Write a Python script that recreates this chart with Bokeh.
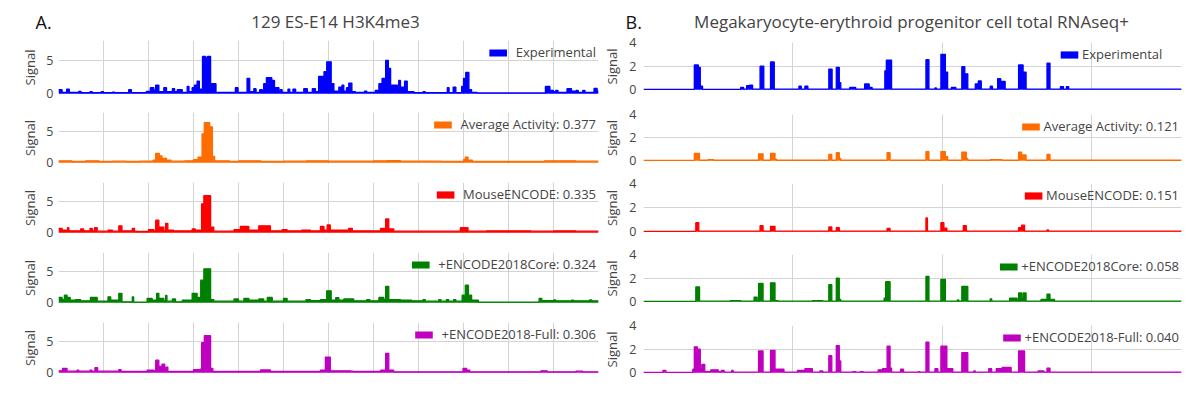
from bokeh.plotting import figure
from bokeh.layouts import column, row
from bokeh.models import Range1d, FixedTicker, Grid, Legend, LegendItem, Label
from bokeh.embed import file_html
from bokeh.resources import INLINE

FONT = "Open Sans"
TXT = "#444444"
GRID = "#d4d4d4"

# ---------------- data (x = genomic bin position, y = signal), step breakpoints ----------------
LEFT_TITLE = "129 ES-E14 H3K4me3"
RIGHT_TITLE = "Megakaryocyte-erythroid progenitor cell total RNAseq+"

LEFT_LABELS = ["Experimental", "Average Activity: 0.377", "MouseENCODE: 0.335",
               "+ENCODE2018Core: 0.324", "+ENCODE2018-Full: 0.306"]
RIGHT_LABELS = ["Experimental", "Average Activity: 0.121", "MouseENCODE: 0.151",
                "+ENCODE2018Core: 0.058", "+ENCODE2018-Full: 0.040"]
COLORS = ["#0000ff", "#ff6c00", "#ff0000", "#008000", "#bf00bf"]

L_EXP = [(0, 0.6), (0.08, 0.2), (0.18, 0.7), (0.24, 0.2), (0.45, 0.35), (0.5, 0.15), (0.7, 0.3), (0.75, 0.15),
         (0.95, 0.3), (1.0, 0.15), (1.2, 0.25), (1.25, 0.15), (1.56, 0.6), (1.62, 0.15), (1.95, 0.35), (2.04, 0.9),
         (2.12, 0.5), (2.16, 1.3), (2.23, 0.3), (2.34, 0.9), (2.4, 0.3), (2.53, 0.75), (2.58, 0.3), (2.64, 0.6),
         (2.75, 0.2), (2.86, 1.1), (2.9, 0.3), (2.97, 0.9), (3.02, 1.3), (3.08, 1.9), (3.13, 0.7), (3.2, 5.6),
         (3.27, 5.4), (3.31, 5.6), (3.38, 1.5), (3.5, 0.2), (3.93, 0.9), (3.99, 0.2), (4.19, 2.3), (4.25, 0.3),
         (4.34, 0.75), (4.39, 0.2), (4.47, 0.6), (4.53, 0.2), (4.56, 1.5), (4.62, 2.4), (4.74, 2.0), (4.8, 0.9),
         (4.9, 0.3), (4.93, 0.6), (4.97, 0.2), (5.1, 0.7), (5.14, 0.2), (5.21, 0.7), (5.27, 0.2), (5.45, 0.75),
         (5.53, 0.2), (5.64, 0.75), (5.71, 0.3), (5.78, 2.6), (5.9, 3.3), (5.96, 4.8), (6.06, 1.5), (6.12, 0.4),
         (6.23, 1.0), (6.3, 1.3), (6.34, 0.4), (6.4, 0.9), (6.45, 1.6), (6.52, 0.3), (6.6, 0.2), (6.8, 0.4),
         (6.85, 0.2), (7.04, 0.5), (7.12, 1.5), (7.19, 2.3), (7.27, 5.0), (7.33, 3.8), (7.38, 1.3), (7.53, 0.5),
         (7.56, 2.0), (7.6, 1.0), (7.69, 1.9), (7.75, 0.3), (7.9, 0.15), (8.1, 0.3), (8.15, 0.15), (8.64, 0.9),
         (8.68, 0.15), (8.77, 1.0), (8.83, 0.15), (8.96, 1.1), (9.0, 2.3), (9.05, 3.2), (9.12, 0.6), (9.18, 0.2),
         (9.3, 0.12), (10.82, 1.1), (10.92, 0.5), (11.0, 0.3), (11.05, 0.5), (11.1, 0.2), (11.3, 0.75), (11.4, 0.4),
         (11.5, 0.5), (11.55, 0.2), (11.65, 0.5), (11.7, 0.2), (11.9, 0.8), (11.97, 0.4), (12.0, 0.4)]

L_AVG = [(0, 0.3), (0.3, 0.2), (0.6, 0.3), (0.9, 0.2), (1.2, 0.25), (1.5, 0.2), (1.8, 0.25), (2.1, 0.4),
         (2.16, 1.5), (2.24, 1.1), (2.3, 0.7), (2.4, 0.4), (2.5, 0.25), (2.8, 0.3), (3.0, 0.5), (3.1, 0.9),
         (3.19, 4.6), (3.24, 6.4), (3.36, 5.7), (3.42, 1.0), (3.47, 0.3), (3.8, 0.2), (4.0, 0.3), (4.5, 0.2),
         (5.0, 0.25), (5.5, 0.3), (6.0, 0.25), (7.0, 0.3), (7.3, 0.35), (7.6, 0.25), (8.5, 0.2), (9.0, 0.5),
         (9.04, 0.9), (9.1, 0.4), (9.2, 0.2), (10.8, 0.3), (11.5, 0.25), (12.0, 0.25)]

L_MOUSE = [(0, 0.7), (0.08, 0.4), (0.2, 0.8), (0.23, 0.3), (0.49, 0.6), (0.56, 0.3), (0.7, 0.7), (0.75, 0.3),
           (0.8, 0.8), (0.86, 0.25), (1.1, 0.4), (1.2, 0.25), (1.34, 1.1), (1.41, 0.3), (1.64, 0.7), (1.69, 0.2),
           (2.0, 0.5), (2.12, 0.3), (2.16, 2.0), (2.23, 0.9), (2.34, 0.3), (2.38, 1.5), (2.43, 0.4), (2.56, 0.3),
           (2.97, 0.6), (3.04, 0.4), (3.18, 4.6), (3.23, 5.9), (3.38, 0.9), (3.45, 0.25), (3.9, 0.5), (4.04, 1.0),
           (4.23, 0.4), (4.45, 1.1), (4.71, 0.3), (4.97, 0.5), (5.08, 0.3), (5.4, 0.4), (5.6, 0.3), (5.82, 1.0),
           (5.9, 0.4), (5.97, 1.25), (6.04, 0.4), (6.45, 0.7), (6.53, 0.3), (7.16, 0.7), (7.27, 2.2), (7.34, 0.6),
           (7.45, 0.25), (8.93, 0.8), (9.1, 0.25), (9.5, 0.3), (10.5, 0.25), (11.0, 0.3), (11.5, 0.25), (12.0, 0.25)]

L_CORE = [(0, 0.85), (0.08, 0.5), (0.13, 1.2), (0.19, 0.85), (0.26, 0.4), (0.38, 0.5), (0.49, 0.3), (0.71, 0.85),
          (0.86, 0.25), (1.1, 0.95), (1.16, 0.4), (1.34, 1.5), (1.41, 0.15), (1.64, 0.95), (1.67, 0.1), (1.97, 0.7),
          (2.08, 0.4), (2.18, 1.5), (2.23, 0.7), (2.34, 0.3), (2.38, 1.15), (2.41, 0.25), (2.53, 0.6), (2.6, 0.15),
          (2.75, 0.4), (2.97, 1.5), (3.08, 0.85), (3.16, 3.6), (3.23, 5.4), (3.38, 0.5), (3.45, 0.25), (3.9, 0.6),
          (4.0, 0.25), (4.12, 0.7), (4.23, 0.4), (4.45, 0.6), (4.56, 0.25), (4.64, 0.85), (4.75, 0.25), (5.0, 0.7),
          (5.08, 0.25), (5.5, 0.5), (5.6, 0.35), (5.82, 0.5), (5.96, 1.9), (6.06, 0.4), (6.16, 0.8), (6.23, 0.4),
          (6.34, 0.6), (6.56, 0.3), (6.85, 0.5), (6.92, 0.3), (7.12, 0.85), (7.23, 0.5), (7.27, 2.6), (7.34, 0.5),
          (7.6, 0.4), (7.85, 0.3), (8.1, 0.5), (8.15, 0.25), (8.45, 0.5), (8.5, 0.25), (8.62, 0.5), (8.67, 0.25),
          (8.78, 0.5), (8.83, 0.25), (8.97, 1.2), (9.04, 2.8), (9.11, 1.2), (9.18, 0.4), (9.33, 0.1), (10.68, 0.7),
          (10.74, 0.35), (11.0, 0.45), (11.05, 0.3), (11.4, 0.4), (11.45, 0.3), (11.8, 0.45), (11.85, 0.3), (12.0, 0.3)]

L_FULL = [(0, 0.3), (0.09, 0.7), (0.19, 0.25), (0.41, 0.4), (0.45, 0.25), (0.7, 0.4), (0.74, 0.25), (0.81, 0.8),
          (0.87, 0.25), (1.34, 0.5), (1.39, 0.2), (1.97, 0.4), (2.12, 0.3), (2.16, 2.0), (2.23, 1.0), (2.3, 1.35),
          (2.36, 0.5), (2.39, 0.9), (2.43, 0.2), (3.0, 0.5), (3.16, 0.6), (3.18, 4.8), (3.24, 5.9), (3.38, 0.7),
          (3.43, 0.2), (4.49, 0.45), (4.71, 0.2), (5.82, 0.4), (5.93, 2.5), (6.04, 0.3), (6.5, 0.25), (6.55, 0.2),
          (7.16, 0.4), (7.27, 3.1), (7.34, 0.4), (7.45, 0.15), (8.99, 0.7), (9.07, 0.4), (9.14, 0.15), (10.72, 0.3),
          (10.86, 0.15), (11.5, 0.25), (11.65, 0.15), (12.0, 0.15)]

R_EXP = [(0, 0.03), (0.34, 2.1), (0.367, 1.9), (0.38, 0.3), (0.395, 0.03), (0.65, 0.2), (0.67, 0.05), (0.69, 0.35),
         (0.71, 0.4), (0.73, 0.05), (0.78, 2.0), (0.805, 0.05), (0.85, 2.35), (0.875, 0.05), (1.04, 0.3),
         (1.056, 0.05), (1.08, 0.3), (1.1, 0.05), (1.24, 1.75), (1.262, 0.05), (1.29, 1.9), (1.31, 0.6),
         (1.32, 0.05), (1.38, 0.2), (1.42, 0.05), (1.48, 0.5), (1.51, 0.2), (1.53, 0.05), (1.615, 1.6),
         (1.625, 2.5), (1.66, 0.05), (1.89, 2.55), (1.91, 0.05), (1.95, 0.15), (1.96, 0.05), (1.99, 3.0),
         (2.02, 1.5), (2.035, 0.05), (2.06, 0.2), (2.09, 0.05), (2.13, 1.95), (2.15, 1.35), (2.17, 0.05),
         (2.22, 0.5), (2.235, 0.2), (2.24, 0.75), (2.26, 0.05), (2.32, 0.3), (2.335, 0.05), (2.37, 0.95),
         (2.39, 0.7), (2.42, 0.05), (2.51, 2.1), (2.54, 1.5), (2.56, 0.05), (2.7, 2.25), (2.72, 0.05),
         (2.79, 0.27), (2.81, 0.05), (2.83, 0.27), (2.845, 0.05), (3.6, 0.05)]

R_AVG = [(0, 0.03), (0.34, 0.65), (0.375, 0.05), (0.43, 0.1), (0.47, 0.05), (0.77, 0.6), (0.8, 0.05), (0.85, 0.65),
         (0.88, 0.15), (0.89, 0.05), (1.24, 0.55), (1.26, 0.05), (1.29, 0.7), (1.31, 0.2), (1.32, 0.05),
         (1.63, 0.7), (1.65, 0.05), (1.89, 0.8), (1.91, 0.05), (1.99, 0.8), (2.02, 0.35), (2.035, 0.05),
         (2.13, 0.75), (2.16, 0.2), (2.17, 0.05), (2.32, 0.1), (2.4, 0.05), (2.51, 0.75), (2.53, 0.5),
         (2.56, 0.05), (2.7, 0.55), (2.72, 0.05), (3.6, 0.05)]

R_MOUSE = [(0, 0.03), (0.35, 0.75), (0.37, 0.05), (0.78, 0.5), (0.8, 0.05), (0.85, 0.45), (0.88, 0.05), (1.24, 0.4),
           (1.26, 0.05), (1.29, 0.35), (1.31, 0.05), (1.63, 0.27), (1.65, 0.05), (1.89, 1.15), (1.9, 0.05),
           (1.99, 0.75), (2.01, 0.3), (2.03, 0.05), (2.14, 0.5), (2.16, 0.05), (2.51, 0.35), (2.53, 0.55),
           (2.55, 0.05), (2.7, 0.15), (2.71, 0.05), (3.6, 0.05)]

R_CORE = [(0, 0.03), (0.35, 1.25), (0.375, 0.05), (0.58, 0.1), (0.65, 0.05), (0.74, 0.4), (0.76, 0.05), (0.77, 1.55),
          (0.8, 0.05), (0.85, 1.6), (0.88, 0.1), (0.9, 0.05), (1.13, 0.1), (1.2, 0.05), (1.24, 1.45), (1.26, 0.05),
          (1.29, 2.0), (1.31, 0.2), (1.32, 0.05), (1.61, 0.3), (1.62, 1.7), (1.65, 0.05), (1.89, 2.15), (1.91, 0.05),
          (1.99, 1.9), (2.02, 0.05), (2.1, 0.15), (2.11, 0.05), (2.13, 1.3), (2.17, 0.05), (2.32, 0.25), (2.33, 0.05),
          (2.45, 0.3), (2.5, 0.1), (2.51, 0.75), (2.53, 0.3), (2.54, 0.75), (2.56, 0.05), (2.66, 0.2), (2.7, 0.65),
          (2.72, 0.2), (2.75, 0.05), (3.6, 0.05)]

R_FULL = [(0, 0.03), (0.13, 0.2), (0.15, 0.03), (0.33, 0.3), (0.34, 2.2), (0.36, 2.0), (0.38, 0.3), (0.39, 0.7),
          (0.41, 0.1), (0.45, 0.25), (0.5, 0.1), (0.52, 0.2), (0.54, 0.05), (0.59, 0.2), (0.6, 0.05), (0.77, 1.85),
          (0.8, 0.05), (0.85, 1.9), (0.88, 0.3), (0.94, 0.05), (1.03, 0.2), (1.08, 0.35), (1.13, 0.05), (1.18, 0.15),
          (1.2, 0.05), (1.24, 1.45), (1.26, 0.05), (1.29, 2.3), (1.31, 1.0), (1.32, 0.05), (1.4, 0.1), (1.42, 0.05),
          (1.45, 0.1), (1.47, 0.05), (1.57, 0.25), (1.6, 0.35), (1.63, 2.25), (1.65, 0.4), (1.66, 0.05),
          (1.72, 0.3), (1.74, 0.05), (1.84, 0.1), (1.85, 0.05), (1.89, 2.6), (1.91, 0.05), (1.95, 0.35),
          (1.97, 0.05), (1.99, 2.25), (2.03, 0.35), (2.07, 0.05), (2.13, 1.7), (2.17, 0.05), (2.21, 0.15),
          (2.22, 0.05), (2.31, 0.35), (2.33, 0.05), (2.36, 0.35), (2.4, 0.45), (2.46, 0.05), (2.51, 1.85),
          (2.55, 0.05), (2.64, 0.15), (2.68, 0.05), (2.7, 0.4), (2.72, 0.05), (3.6, 0.05)]

LEFT_TRACKS = [L_EXP, L_AVG, L_MOUSE, L_CORE, L_FULL]
RIGHT_TRACKS = [R_EXP, R_AVG, R_MOUSE, R_CORE, R_FULL]

FRAME_W = 540

LEFT_CFG = dict(fig_w=600, xmax=12.0, ymin=-0.12, ymax=8.0, yticks=[0, 5], ygrid=[5], xgrid=list(range(0, 12)),
                border_left=58, tops=[6, 11, 12, 12, 12], frames=[54, 51, 51, 51, 51], bottoms=[7, 7, 7, 7, 15],
                tick_standoff=5, label_standoff=4, legend_standoff=7, letter="A.", letter_px=35,
                title=LEFT_TITLE, title_px=335, right_first=None)
RIGHT_CFG = dict(fig_w=598, xmax=3.6, ymin=-0.06, ymax=4.0, yticks=[0, 2, 4], ygrid=[2], xgrid=[1, 2, 3],
                 border_left=41, tops=[8, 17, 15, 15, 16], frames=[48, 47, 49, 48, 48], bottoms=[7, 7, 7, 7, 15],
                 tick_standoff=7, label_standoff=5, legend_standoff=2, letter="B.", letter_px=25,
                 title=RIGHT_TITLE, title_px=311, right_first=415)


def header(cfg):
    # frame spans the whole header; the texts are placed in screen pixels inside it
    w = cfg["fig_w"]
    h = figure(width=w, height=34, x_range=Range1d(0, w), y_range=Range1d(0, 34),
               x_axis_type=None, y_axis_type=None, toolbar_location=None, output_backend="svg",
               min_border=0, frame_align=False)
    h.title.visible = False
    h.title.text_font_size = "1px"
    h.title.standoff = 0
    h.outline_line_color = None
    h.add_layout(Label(x=cfg["letter_px"], y=13, x_units="screen", y_units="screen", text=cfg["letter"],
                       text_font=FONT, text_font_size="18px", text_color="#111111",
                       text_baseline="middle", text_align="left"))
    h.add_layout(Label(x=cfg["title_px"], y=13, x_units="screen", y_units="screen", text=cfg["title"],
                       text_font=FONT, text_font_size="17px", text_color=TXT,
                       text_baseline="middle", text_align="center"))
    return h


def panel(cfg, i, pairs, color, label):
    xs = [a for a, b in pairs]
    ys = [b for a, b in pairs]
    p = figure(width=cfg["fig_w"], height=cfg["tops"][i] + cfg["frames"][i] + cfg["bottoms"][i],
               x_range=Range1d(0, cfg["xmax"]), y_range=Range1d(cfg["ymin"], cfg["ymax"]),
               x_axis_type=None, toolbar_location=None, output_backend="svg", frame_align=False,
               min_border_top=cfg["tops"][i], min_border_bottom=cfg["bottoms"][i],
               min_border_left=cfg["border_left"], min_border_right=cfg["fig_w"] - cfg["border_left"] - FRAME_W)
    p.outline_line_color = None
    p.add_layout(Grid(dimension=0, ticker=FixedTicker(ticks=cfg["xgrid"]), grid_line_color=GRID,
                      grid_line_width=1))
    p.ygrid.ticker = FixedTicker(ticks=cfg["ygrid"])
    p.ygrid.grid_line_color = GRID
    ax = p.yaxis[0]
    ax.ticker = FixedTicker(ticks=cfg["yticks"])
    ax.axis_label = "Signal"
    ax.axis_label_text_font = FONT
    ax.axis_label_text_font_size = "13px"
    ax.axis_label_text_font_style = "normal"
    ax.axis_label_text_color = TXT
    ax.axis_label_standoff = cfg["label_standoff"]
    ax.major_label_text_font = FONT
    ax.major_label_text_font_size = "12.5px"
    ax.major_label_text_color = TXT
    ax.major_label_standoff = cfg["tick_standoff"]
    ax.axis_line_color = None
    ax.major_tick_line_color = None
    ax.minor_tick_line_color = None
    ax.major_tick_out = 0

    r = p.varea_step(x=xs, y1=[0] * len(xs), y2=ys, step_mode="after", fill_color=color, fill_alpha=1.0)
    p.step(xs, ys, mode="after", line_color=color, line_width=1.3)

    loc = "top_right"
    if i == 0 and cfg["right_first"] is not None:
        loc = (cfg["right_first"], cfg["frames"][i] - 22)
    leg = Legend(items=[LegendItem(label=label, renderers=[r])], location=loc,
                 label_text_font=FONT, label_text_font_size="13px", label_text_color=TXT,
                 glyph_width=22, glyph_height=9, label_standoff=cfg["legend_standoff"],
                 padding=0, margin=2, spacing=0, label_height=20,
                 background_fill_alpha=0, border_line_alpha=0)
    p.add_layout(leg)
    return p


def build(cfg, tracks, labels):
    figs = [header(cfg)]
    for i in range(5):
        figs.append(panel(cfg, i, tracks[i], COLORS[i], labels[i]))
    return column(*figs, spacing=0)


layout = row(build(LEFT_CFG, LEFT_TRACKS, LEFT_LABELS), build(RIGHT_CFG, RIGHT_TRACKS, RIGHT_LABELS), spacing=0)

open("out.html", "w").write(file_html(layout, INLINE))
